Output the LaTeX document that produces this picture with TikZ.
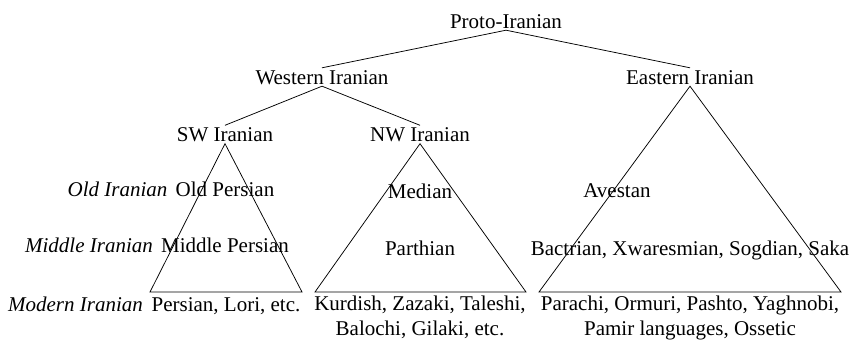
\documentclass[tikz,border=0pt]{standalone}
\usepackage{fontspec}
\setmainfont{Liberation Serif}
\begin{document}
\begin{tikzpicture}[x=1pt,y=-1pt,
  every node/.style={font=\fontsize{21}{25}\selectfont},
  tnode/.style={inner xsep=0pt,inner ysep=2pt,text height=14pt,text depth=0pt,anchor=base},
  lang/.style={inner sep=0pt,anchor=base,align=center},
  per/.style={inner sep=0pt,anchor=base,font=\fontsize{21}{25}\selectfont\itshape},
  edge/.style={line width=0.75pt,black}]
\useasboundingbox (0,0) rectangle (851,340);
% tree nodes
\node[tnode] (proto) at (506,28) {Proto-Iranian};
\node[tnode] (west) at (322,84) {Western Iranian};
\node[tnode] (east) at (690,84) {Eastern Iranian};
\node[tnode] (sw) at (225,141.5) {SW Iranian};
\node[tnode] (nw) at (420,141.5) {NW Iranian};
% period labels
\node[per] (oldp) at (117.5,196) {Old Iranian};
\node[per] (midp) at (89,252) {Middle Iranian};
\node[per] (modp) at (75.5,311) {Modern Iranian};
% languages
\node[lang] (oldpers) at (225,196) {Old Persian};
\node[lang] (midpers) at (225,252) {Middle Persian};
\node[lang] (pers) at (226,311) {Persian, Lori, etc.};
\node[lang] (median) at (420,198) {Median};
\node[lang] (parth) at (420,255) {Parthian};
\node[lang] (kurd) at (420,335) {Kurdish, Zazaki, Taleshi,\\Balochi, Gilaki, etc.};
\node[lang] (avest) at (617,197) {Avestan};
\node[lang] (bact) at (690,255) {Bactrian, Xwaresmian, Sogdian, Saka};
\node[lang] (para) at (690,335) {Parachi, Ormuri, Pashto, Yaghnobi,\\Pamir languages, Ossetic};
% triangle base corners
\coordinate (swl) at (150,292);
\coordinate (swr) at (302,292);
\coordinate (nwl) at (315,292);
\coordinate (nwr) at (526,292);
\coordinate (el) at (539,292);
\coordinate (er) at (841,292);
% branches
\draw[edge] (proto.south) -- (west.north);
\draw[edge] (proto.south) -- (east.north);
\draw[edge] (west.south) -- (sw.north);
\draw[edge] (west.south) -- (nw.north);
% triangles
\draw[edge] (sw.south) -- (swl) -- (swr) -- cycle;
\draw[edge] (nw.south) -- (nwl) -- (nwr) -- cycle;
\draw[edge] (east.south) -- (el) -- (er) -- cycle;
\end{tikzpicture}
\end{document}
